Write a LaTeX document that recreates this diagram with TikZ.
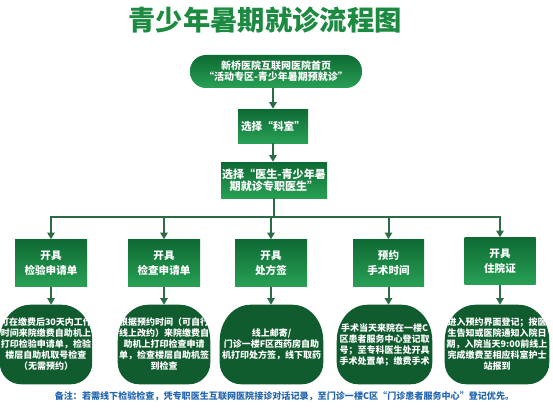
\documentclass[tikz,border=0pt]{standalone}
\usepackage{fontspec}
\setmainfont{Noto Sans CJK SC}
\usetikzlibrary{arrows.meta,backgrounds}
\definecolor{tgreen}{HTML}{1C8A40}
\definecolor{boxtop}{HTML}{0E6A33}
\definecolor{boxbot}{HTML}{28A055}
\definecolor{ovalg}{HTML}{115C2F}
\definecolor{lineg}{HTML}{2B6B45}
\definecolor{noteblue}{HTML}{2366B0}
\def\pxu{0.75pt}
\newcommand\ovalbg[1]{\fill[ovalg] ([yshift=-27pt]#1.north west) arc[start angle=180, end angle=90, x radius=23pt, y radius=27pt] -- ([xshift=-23pt]#1.north east) arc[start angle=90, end angle=0, x radius=23pt, y radius=27pt] -- ([yshift=16pt]#1.south east) arc[start angle=0, end angle=-90, radius=16pt] -- ([xshift=16pt]#1.south west) arc[start angle=270, end angle=180, radius=16pt] -- cycle;}
\begin{document}
\begin{tikzpicture}[x=0.75pt,y=-0.75pt,
  greenbox/.style={rectangle, top color=boxtop, bottom color=boxbot, draw=none, text=white, align=center, inner sep=0pt},
  bigbox/.style={greenbox, font=\bfseries\fontsize{7.9}{11.25}\selectfont, minimum width=72*\pxu, minimum height=47*\pxu},
  ovalst/.style={text=white, align=center, inner sep=0pt, font=\bfseries\fontsize{6.75}{8.25}\selectfont, minimum height=79*\pxu},
  conn/.style={draw=lineg, line width=1.5pt},
  arr/.style={conn, -{Triangle[width=5.5pt,length=5pt]}}
]
\useasboundingbox (0,0) rectangle (553,410);

\node[text=tgreen, font=\bfseries\fontsize{20.5}{24}\selectfont] (title) at (265,20) {青少年暑期就诊流程图};

\node[greenbox, rounded corners=12pt, minimum width=172*\pxu, minimum height=33*\pxu, font=\bfseries\fontsize{7.5}{8.25}\selectfont] (top) at (276,71.5) {新桥医院互联网医院首页\\“活动专区-青少年暑期预就诊”};

\node[greenbox, minimum width=70*\pxu, minimum height=34*\pxu, font=\bfseries\fontsize{8}{10}\selectfont] (keshi) at (273,126) {选择“科室”};

\node[greenbox, minimum width=106*\pxu, minimum height=36*\pxu, font=\bfseries\fontsize{8.3}{9}\selectfont] (doc) at (274,180) {选择“医生-青少年暑\\期就诊专职医生”};

\node[bigbox] (b1) at (51,263) {开具\\检验申请单};
\node[bigbox] (b2) at (164,263) {开具\\检查申请单};
\node[bigbox] (b3) at (271,263) {开具\\处方签};
\node[bigbox, minimum width=71*\pxu] (b4) at (388.5,263) {预约\\手术时间};
\node[bigbox, minimum width=71*\pxu] (b5) at (500,261) {开具\\住院证};

\node[ovalst, minimum width=86*\pxu] (o1) at (46,344.5) {可在缴费后30天内工作\\时间来院缴费自助机上\\打印检验申请单，检验\\楼层自助机取号检查\\（无需预约）};
\node[ovalst, minimum width=92*\pxu] (o2) at (164,344.5) {根据预约时间（可自行\\线上改约）来院缴费自\\助机上打印检查申请\\单，检查楼层自助机签\\到检查};
\node[ovalst, minimum width=103*\pxu] (o3) at (271.5,344.5) {线上邮寄/\\门诊一楼F区西药房自助\\机打印处方签，线下取药};
\node[ovalst, minimum width=95*\pxu] (o4) at (384.5,344.5) {手术当天来院在一楼C\\区患者服务中心登记取\\号；至专科医生处开具\\手术处置单；缴费手术};
\node[ovalst, minimum width=104*\pxu] (o5) at (497,344.5) {进入预约界面登记；按医\\生告知或医院通知入院日\\期，入院当天9:00前线上\\完成缴费至相应科室护士\\站报到};

\begin{scope}[on background layer]
\fill[white] (0,0) rectangle (553,410);
\ovalbg{o1}\ovalbg{o2}\ovalbg{o3}\ovalbg{o4}\ovalbg{o5}
\end{scope}

\node[text=noteblue, font=\bfseries\fontsize{6.8}{8}\selectfont] (note) at (284.5,396) {备注：若需线下检验检查，凭专职医生互联网医院接诊对话记录，至门诊一楼C区“门诊患者服务中心”登记优先。};

\coordinate (busy) at (0,217);
\draw[arr] (keshi.north |- top.south) -- (keshi.north);
\draw[arr] (keshi.south) -- (keshi.south |- doc.north);
\draw[conn] (doc.south) -- (doc.south |- busy);
\draw[conn, line cap=rect] (b1.north |- busy) -- (b5.north |- busy);
\foreach \i in {1,...,5}{
  \draw[arr] (b\i.north |- busy) -- (b\i.north);
  \draw[arr] (b\i.south) -- (b\i.south |- o\i.north);
}
\end{tikzpicture}
\end{document}
